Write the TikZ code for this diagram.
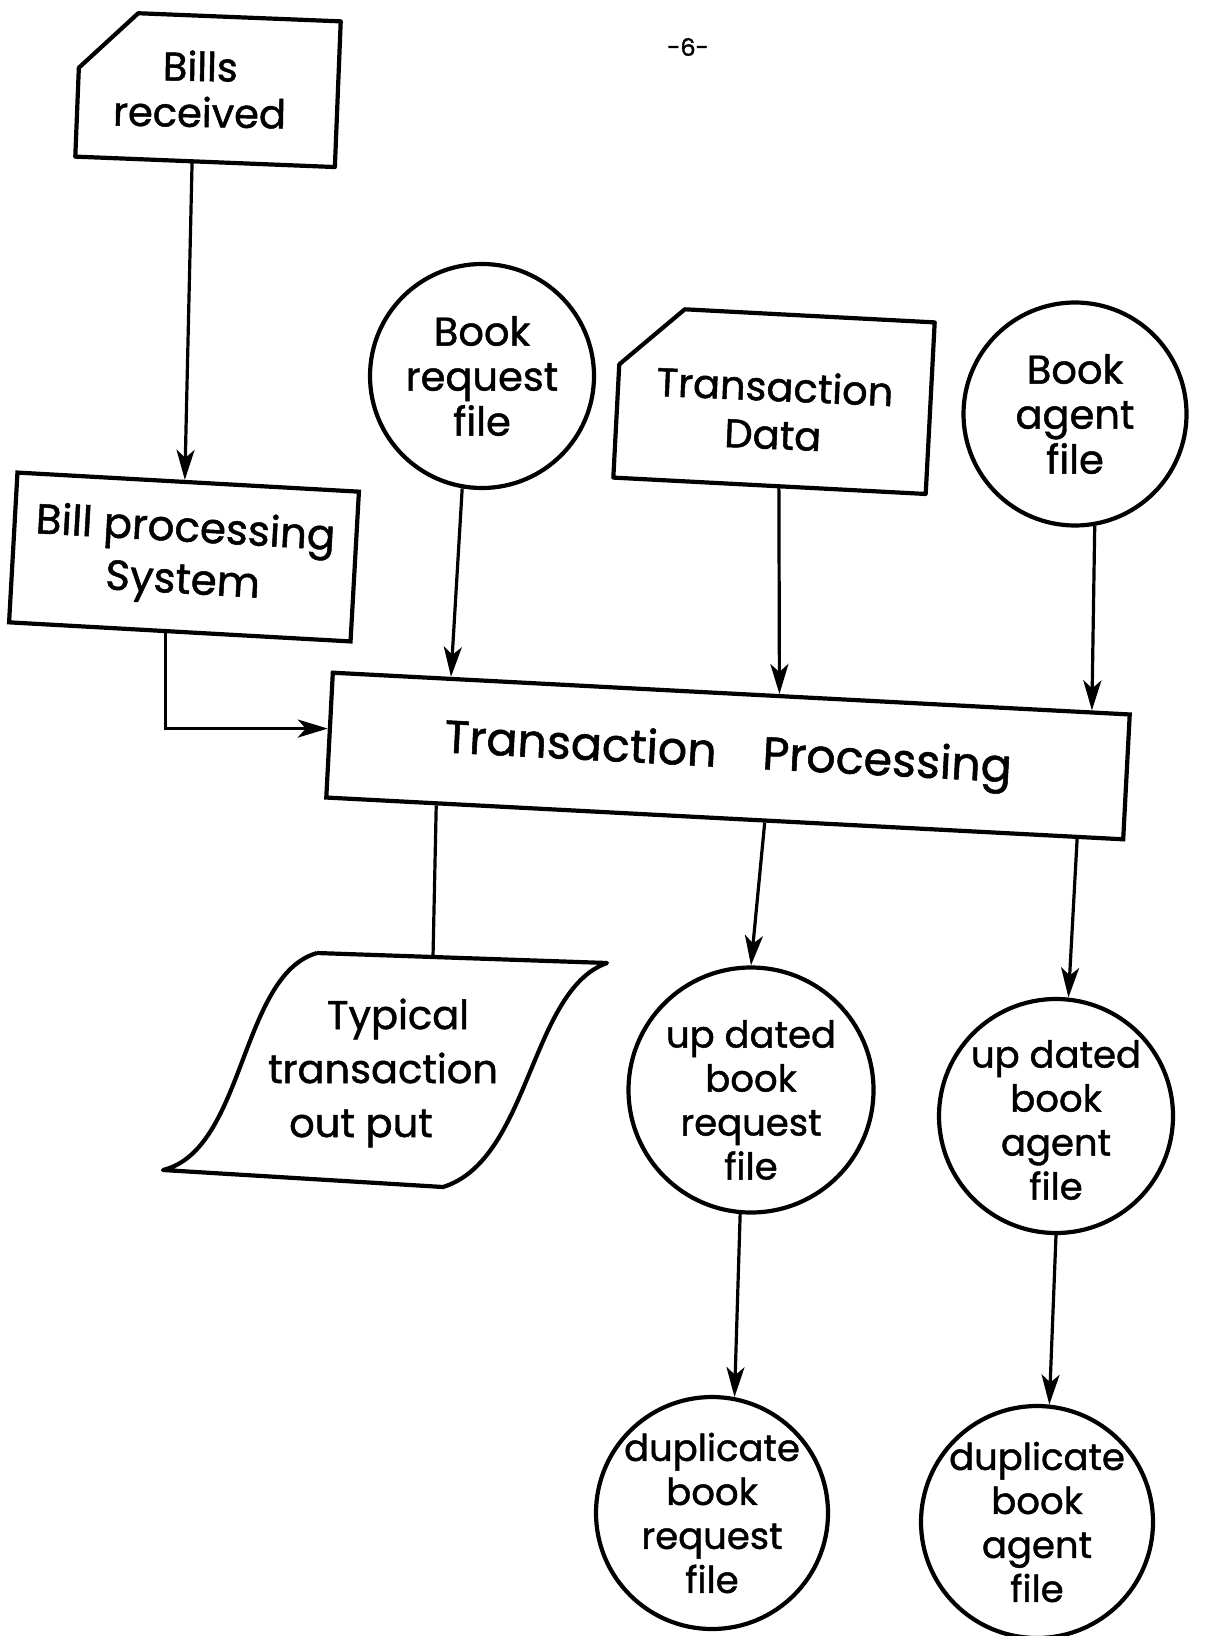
\documentclass[tikz,border=0pt]{standalone}
\usepackage{fontspec}
\setmainfont{Poppins}[FakeBold=1.2]
\usetikzlibrary{calc,arrows.meta}
\begin{document}
\begin{tikzpicture}[x=0.5pt,y=-0.5pt,
  lbl/.style={font=\fontsize{18.5}{22}\selectfont, align=center, inner sep=0pt},
  filenode/.style={circle, draw, line width=2.1pt, inner sep=0pt},
  boxnode/.style={draw, line width=2.1pt, rectangle, lbl},
  cardnode/.style={rectangle, inner sep=0pt},
  shapeline/.style={line width=2.1pt, line join=round},
  arr/.style={line width=1.6pt, -{Stealth[length=15pt,width=9pt,inset=4pt]}},
  plainline/.style={line width=1.6pt}]
\useasboundingbox (0,0) rectangle (1204,1636);

% page number
\node[font=\fontsize{12}{14}\selectfont] (pg) at (688,47) {-6-};

% Bills received (card)
\node[cardnode, minimum width=129.5pt, minimum height=72.5pt, rotate=-2.3,
  label={[lbl, font=\fontsize{20}{23}\selectfont, xshift=-4pt, rotate=-1]center:{Bills\\received}}] (bills) at (208,89) {};
\draw[shapeline] ($(bills.north west)!0.22!(bills.north east)$) -- (bills.north east) -- (bills.south east) -- (bills.south west) -- ($(bills.north west)!0.39!(bills.south west)$) -- cycle;

% Bill processing system
\node[boxnode, font=\fontsize{21}{26}\selectfont, minimum width=171pt, minimum height=75pt, rotate=-3.2] (bill) at (184,557) {Bill processing\\System};

% Book request file
\node[filenode, minimum size=112pt, label={[lbl, font=\fontsize{20}{22.5}\selectfont]center:{Book\\request\\file}}] (bookreq) at (482,376) {};

% Transaction Data (card)
\node[cardnode, minimum width=156pt, minimum height=85.5pt, rotate=-3,
  label={[lbl, font=\fontsize{20}{24}\selectfont, yshift=-5pt, rotate=-2.5]center:{Transaction\\Data}}] (td) at (774,400) {};
\draw[shapeline] ($(td.north west)!0.2!(td.north east)$) -- (td.north east) -- (td.south east) -- (td.south west) -- ($(td.north west)!0.34!(td.south west)$) -- cycle;

% Book agent file
\node[filenode, minimum size=111.5pt, label={[lbl, font=\fontsize{20}{22.5}\selectfont]center:{Book\\agent\\file}}] (bookagent) at (1075,414) {};

% Transaction Processing
\node[boxnode, font=\fontsize{23}{26}\selectfont, minimum width=399pt, minimum height=62.5pt, rotate=-3] (tp) at (728,756) {Transaction\quad Processing};

% Typical transaction output (tape shape)
\coordinate (tTL) at (317,953);
\coordinate (tTR) at (607,963);
\coordinate (tBR) at (443,1187);
\coordinate (tBL) at (163,1170);
\draw[shapeline] (tTL) -- (tTR) .. controls (530,990) and (530,1160) .. (tBR) -- (tBL) .. controls (245,1150) and (240,975) .. (tTL);
\node[lbl, font=\fontsize{20}{27}\selectfont] (typ) at (383,1073) {\hspace*{15pt}Typical\\transaction\\out put\hspace*{22pt}};

% updated files
\node[filenode, minimum size=122.5pt, label={[lbl, yshift=-5pt]center:{up dated\\book\\request\\file}}] (updreq) at (751,1090) {};
\node[filenode, minimum size=117pt, label={[lbl, yshift=-2pt]center:{up dated\\book\\agent\\file}}] (updagent) at (1056,1116) {};

% duplicate files
\node[filenode, minimum size=116pt, label={[lbl]center:{duplicate\\book\\request\\file}}] (dupreq) at (712,1513) {};
\node[filenode, minimum size=116pt, label={[lbl]center:{duplicate\\book\\agent\\file}}] (dupagent) at (1037,1522) {};

% connectors
\draw[arr] ($(bills.south west)!0.45!(bills.south east)$) -- ($(bill.north west)!0.49!(bill.north east)$);
\draw[arr] (bookreq.-100) -- ($(tp.north west)!0.15!(tp.north east)$);
\draw[arr] ($(td.south west)!0.53!(td.south east)$) -- ($(tp.north west)!0.56!(tp.north east)$);
\draw[arr] (bookagent.-80) -- ($(tp.north west)!0.95!(tp.north east)$);
\draw[arr] ($(bill.south west)!0.46!(bill.south east)$) |- ($(tp.north west)!0.45!(tp.south west)$);
\draw[plainline] ($(tp.south west)!0.14!(tp.south east)$) -- ($(tTL)!0.4!(tTR)$);
\draw[arr] ($(tp.south west)!0.55!(tp.south east)$) -- (updreq.north);
\draw[arr] ($(tp.south west)!0.94!(tp.south east)$) -- (updagent.84);
\draw[arr] (updreq.-95) -- (dupreq.79);
\draw[arr] (updagent.south) -- (dupagent.84);
\end{tikzpicture}
\end{document}
